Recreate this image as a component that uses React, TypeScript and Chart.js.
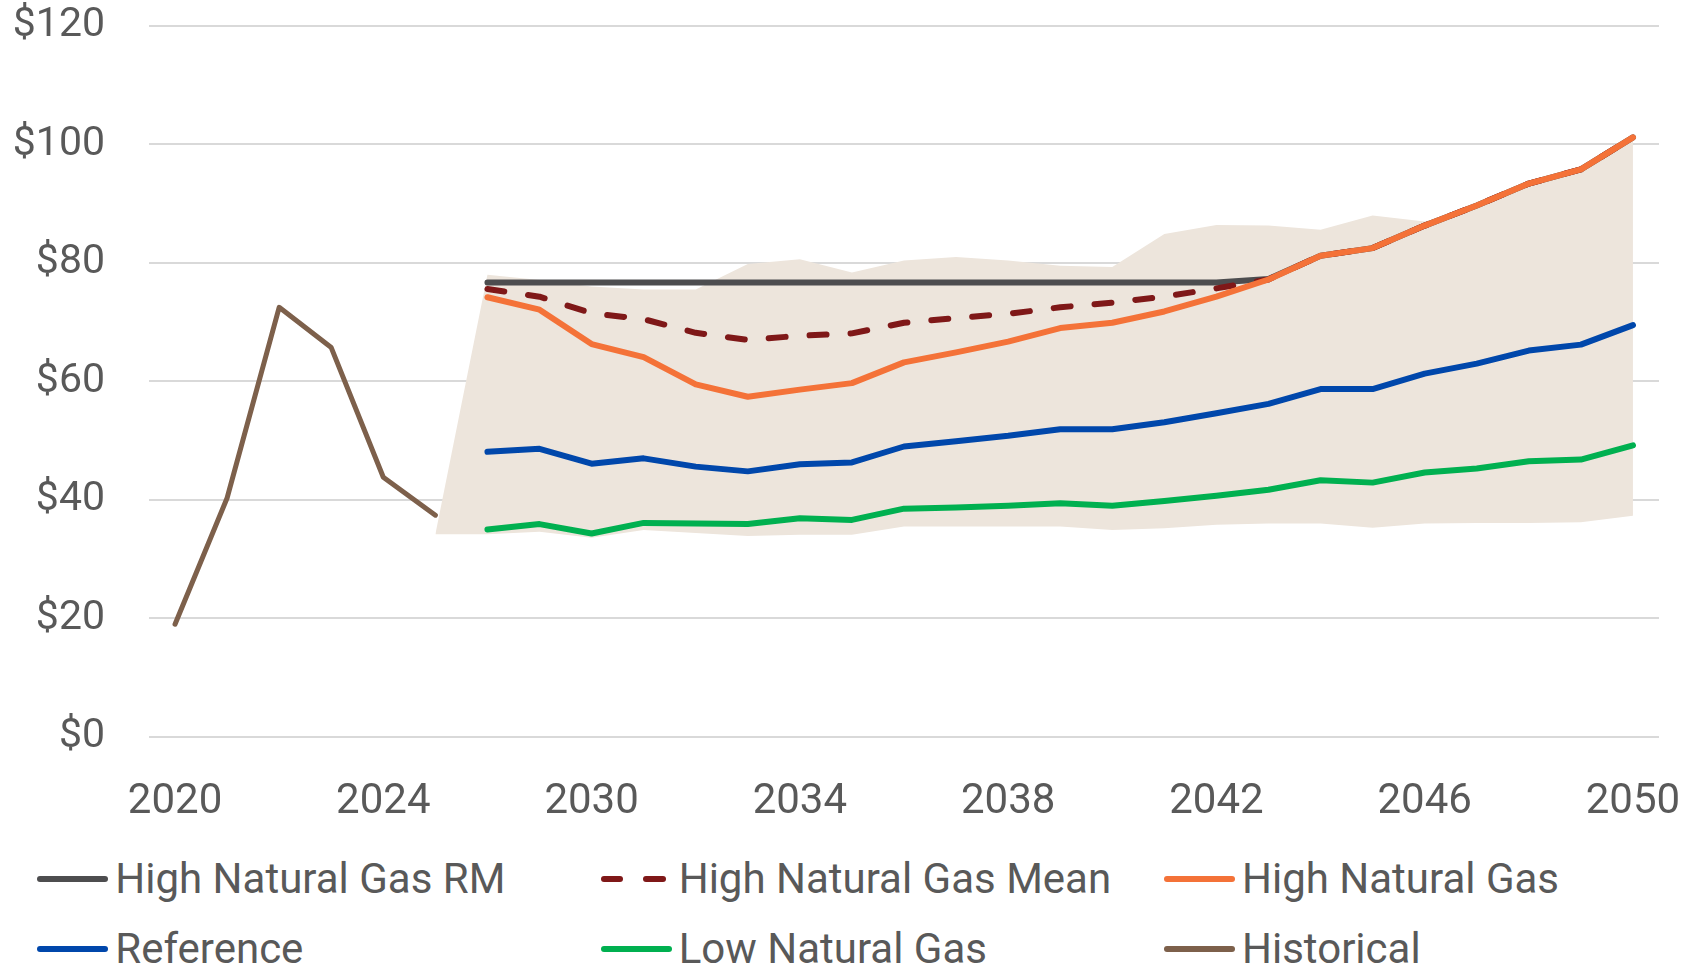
import React, { useEffect, useRef } from 'react';
import { Chart, registerables } from 'chart.js';

Chart.register(...registerables);

const categories = ['2020', '2021', '2022', '2023', '2024', '2025', '2028', '2029', '2030', '2031', '2032', '2033', '2034', '2035', '2036', '2037', '2038', '2039', '2040', '2041', '2042', '2043', '2044', '2045', '2046', '2047', '2048', '2049', '2050'];

const N = null;
const historical = [19.0, 40.3, 72.5, 65.7, 43.8, 37.4, N, N, N, N, N, N, N, N, N, N, N, N, N, N, N, N, N, N, N, N, N, N, N];
const highGasRM = [N, N, N, N, N, N, 76.7, 76.7, 76.7, 76.7, 76.7, 76.7, 76.7, 76.7, 76.7, 76.7, 76.7, 76.7, 76.7, 76.7, 76.7, 77.3, 81.2, 82.5, 86.3, 89.7, 93.4, 95.8, 101.2];
const highGasMean = [N, N, N, N, N, N, 75.6, 74.3, 71.5, 70.5, 68.2, 67.0, 67.7, 68.1, 69.9, 70.7, 71.4, 72.5, 73.3, 74.3, 75.7, 77.2, 81.2, 82.5, 86.3, 89.7, 93.4, 95.8, 101.2];
const highGas = [N, N, N, N, N, N, 74.2, 72.1, 66.3, 64.1, 59.5, 57.4, 58.6, 59.7, 63.2, 64.9, 66.7, 69.0, 69.9, 71.8, 74.3, 77.2, 81.2, 82.5, 86.3, 89.7, 93.4, 95.8, 101.2];
const reference = [N, N, N, N, N, N, 48.1, 48.6, 46.1, 47.0, 45.6, 44.8, 46.0, 46.3, 49.0, 49.9, 50.8, 51.9, 51.9, 53.1, 54.6, 56.2, 58.7, 58.7, 61.3, 63.0, 65.2, 66.2, 69.5];
const lowGas = [N, N, N, N, N, N, 35.0, 35.9, 34.3, 36.1, 36.0, 35.9, 36.9, 36.6, 38.5, 38.7, 39.0, 39.4, 39.0, 39.8, 40.7, 41.7, 43.3, 42.9, 44.6, 45.3, 46.5, 46.8, 49.2];
const rangeLow = [N, N, N, N, N, 34.2, 34.2, 34.6, 33.6, 34.9, 34.4, 33.9, 34.1, 34.1, 35.5, 35.5, 35.5, 35.5, 34.9, 35.2, 35.8, 36.0, 36.0, 35.3, 36.0, 36.1, 36.1, 36.2, 37.3];
const rangeHigh = [N, N, N, N, N, 34.2, 78.0, 77.1, 76.0, 75.5, 75.5, 79.8, 80.6, 78.4, 80.4, 81.0, 80.4, 79.5, 79.3, 84.9, 86.4, 86.3, 85.6, 88.0, 87.0, 89.3, 93.1, 95.5, 100.6];
const yTicks = [0, 20, 40, 60, 80, 100, 120];

const seriesNames = ['High Natural Gas RM', 'High Natural Gas Mean', 'High Natural Gas', 'Reference', 'Low Natural Gas', 'Historical'];
const seriesColors = ['#4D4D4F', '#7F1818', '#F47238', '#0047AB', '#00B050', '#7D604B'];
const bandColor = '#EDE5DC';
const textColor = '#595959';
const FONT = 'Roboto';

export default function App() {
  const canvasRef = useRef<HTMLCanvasElement | null>(null);

  useEffect(() => {
    if (!canvasRef.current) return;
    const solid = (i: number, data: (number | null)[], order: number, extra: any = {}) => ({
      label: seriesNames[i],
      data,
      borderColor: seriesColors[i],
      backgroundColor: seriesColors[i],
      borderWidth: 6,
      pointRadius: 0,
      fill: false,
      order,
      borderCapStyle: 'round',
      borderJoinStyle: 'round',
      ...extra,
    });
    const chart = new Chart(canvasRef.current, {
      type: 'line',
      data: {
        labels: categories,
        datasets: [
          { label: 'Range Low', data: rangeLow, borderColor: 'rgba(0,0,0,0)', backgroundColor: 'rgba(0,0,0,0)', borderWidth: 0, pointRadius: 0, fill: false, order: 11 },
          { label: 'Range High', data: rangeHigh, borderColor: 'rgba(0,0,0,0)', backgroundColor: bandColor, borderWidth: 0, pointRadius: 0, fill: '-1', order: 10 },
          solid(0, highGasRM, 6),
          solid(1, highGasMean, 5, { borderDash: [17, 24] }),
          solid(2, highGas, 4),
          solid(3, reference, 3),
          solid(4, lowGas, 2),
          solid(5, historical, 1, { borderWidth: 5 }),
        ] as any,
      },
      options: {
        responsive: false,
        animation: false,
        layout: { padding: { left: 0, right: 24, top: 26, bottom: 0 } },
        plugins: { legend: { display: false }, tooltip: { enabled: false } },
        elements: { line: { tension: 0 }, point: { radius: 0 } },
        scales: {
          x: {
            type: 'category',
            offset: true,
            grid: { display: false, drawTicks: true, tickLength: 41, tickColor: 'rgba(0,0,0,0)' },
            border: { display: false },
            ticks: {
              autoSkip: false,
              maxRotation: 0,
              minRotation: 0,
              padding: 0,
              color: textColor,
              font: { family: FONT, size: 42 },
              callback: (_v: any, i: number) => (i % 4 === 0 ? categories[i] : ''),
            },
            afterFit: (s: any) => { s.height = 103.3; },
          },
          y: {
            min: yTicks[0],
            max: yTicks[yTicks.length - 1],
            grid: { color: '#D9D9D9', lineWidth: 2, drawTicks: true, tickLength: 44, tickColor: 'rgba(0,0,0,0)' },
            border: { display: false },
            ticks: {
              stepSize: 20,
              padding: 0,
              color: textColor,
              font: { family: FONT, size: 41 },
              callback: (v: any) => '$' + v,
            },
            afterFit: (s: any) => { s.width = 149; },
          },
        },
      } as any,
    });
    return () => chart.destroy();
  }, []);

  const cols = [37.3, 600.7, 1164];
  const rows = [879, 949];

  return (
    <div style={{ position: 'absolute', left: 0, top: 0, width: 1683, height: 967, background: '#fff', overflow: 'hidden' }}>
      <canvas ref={canvasRef} width={1683} height={840} style={{ position: 'absolute', left: 0, top: 0 }} />
      {seriesNames.map((name, i) => {
        const x = cols[i % 3];
        const y = rows[Math.floor(i / 3)];
        const dashed = i === 1;
        return (
          <div key={name} style={{ position: 'absolute', left: x, top: y - 30, height: 60, display: 'flex', alignItems: 'center' }}>
            <div style={{ position: 'relative', width: 71, height: 6 }}>
              {dashed ? (
                <>
                  <div style={{ position: 'absolute', left: 0, top: 0, width: 22.6, height: 6, borderRadius: 3, background: seriesColors[i] }} />
                  <div style={{ position: 'absolute', left: 42.6, top: 0, width: 22.6, height: 6, borderRadius: 3, background: seriesColors[i] }} />
                </>
              ) : (
                <div style={{ position: 'absolute', left: 0, top: 0, width: 71, height: 6, borderRadius: 3, background: seriesColors[i] }} />
              )}
            </div>
            <span style={{ marginLeft: 7, fontFamily: FONT, fontSize: 42, lineHeight: '60px', color: textColor, whiteSpace: 'nowrap' }}>{name}</span>
          </div>
        );
      })}
    </div>
  );
}
